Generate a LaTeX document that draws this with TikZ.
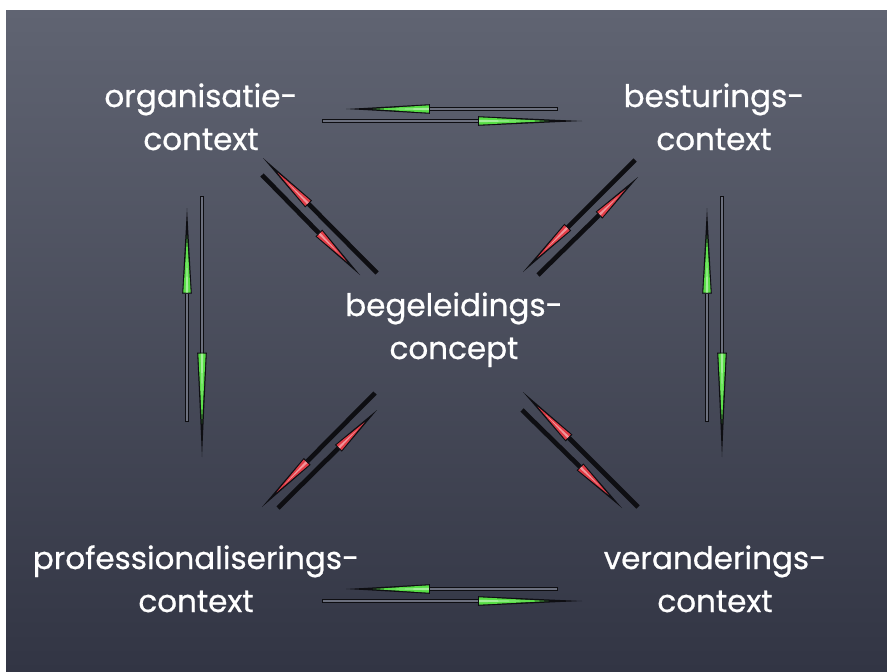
\documentclass[tikz,border=0pt]{standalone}
\usepackage{fontspec}
\setmainfont{Poppins}[FakeBold=0.7]
\usetikzlibrary{calc}

\definecolor{boardtop}{RGB}{96,100,114}
\definecolor{boardbottom}{RGB}{50,53,68}
\definecolor{barfill}{RGB}{108,112,126}
\definecolor{chalkgreen}{RGB}{88,222,70}
\definecolor{chalkred}{RGB}{226,60,70}
\definecolor{inkline}{RGB}{14,14,18}

\tikzset{
  label/.style={text=white, align=center, anchor=base, inner sep=0pt,
    font=\fontsize{31}{43}\selectfont},
  hbar/.style={line width=4.8pt, inkline,
    postaction={draw, line width=2.4pt, barfill, shorten <=1.2pt}},
  dbar/.style={line width=4.6pt, inkline},
}

% tail, tip, fraction where the wedge begins, wedge colour, bar style
\newcommand\chalkarrow[5]{%
  \coordinate (cw-base) at ($(#1)!#3!(#2)$);
  \coordinate (cw-in) at ($(cw-base)!1.1pt!(#2)$);
  \draw[#5] (#1) -- (cw-base);
  \fill[inkline] ($(cw-base)!4.8pt!90:(#2)$) -- (#2) -- ($(cw-base)!4.8pt!-90:(#2)$) -- cycle;
  \fill[#4] ($(cw-in)!3.7pt!90:(#2)$) -- ($(cw-base)!0.68!(#2)$) -- ($(cw-in)!3.7pt!-90:(#2)$) -- cycle;
  \fill[#4!55!white] ($(cw-in)!1.2pt!90:(#2)$) -- ($(cw-base)!0.5!(#2)$) -- ($(cw-in)!1.2pt!-90:(#2)$) -- cycle;
}

\begin{document}
\begin{tikzpicture}[x=1pt,y=-1pt]
  \useasboundingbox (0,0) rectangle (887,672);
  \fill[white] (0,0) rectangle (887,672);
  \shade[top color=boardtop, bottom color=boardbottom] (6,10) rectangle (887,672);

  % labels (anchored on the baseline of their last line)
  \node[label] (org) at (201,150) {organisatie-\\context};
  \node[label] (bes) at (714,150) {besturings-\\context};
  \node[label] (beg) at (454,359) {begeleidings-\\concept};
  \node[label] (pro) at (196,612) {professionaliserings-\\context};
  \node[label] (ver) at (715,612) {veranderings-\\context};

  % arrow end points
  \coordinate (t1tail) at (558,109); \coordinate (t1tip) at (346,109);
  \coordinate (t2tail) at (322,121); \coordinate (t2tip) at (582,121);
  \coordinate (b1tail) at (558,589); \coordinate (b1tip) at (346,589);
  \coordinate (b2tail) at (322,601); \coordinate (b2tip) at (582,601);
  \coordinate (l1tail) at (187,422); \coordinate (l1tip) at (187,208);
  \coordinate (l2tail) at (202,196); \coordinate (l2tip) at (202,457);
  \coordinate (r1tail) at (707,422); \coordinate (r1tip) at (707,208);
  \coordinate (r2tail) at (722,196); \coordinate (r2tip) at (722,457);
  \coordinate (d1tail) at (377,273); \coordinate (d1tip) at (263,158);
  \coordinate (d2tail) at (262,175); \coordinate (d2tip) at (360,275);
  \coordinate (d3tail) at (635,160); \coordinate (d3tip) at (523,272);
  \coordinate (d4tail) at (538,275); \coordinate (d4tip) at (638,177);
  \coordinate (d5tail) at (638,507); \coordinate (d5tip) at (523,392);
  \coordinate (d6tail) at (522,410); \coordinate (d6tip) at (622,508);
  \coordinate (d7tail) at (375,393); \coordinate (d7tip) at (262,507);
  \coordinate (d8tail) at (278,508); \coordinate (d8tip) at (377,410);

  % outer connections (green)
  \chalkarrow{t1tail}{t1tip}{0.604}{chalkgreen}{hbar}
  \chalkarrow{t2tail}{t2tip}{0.6}{chalkgreen}{hbar}
  \chalkarrow{b1tail}{b1tip}{0.604}{chalkgreen}{hbar}
  \chalkarrow{b2tail}{b2tip}{0.6}{chalkgreen}{hbar}
  \chalkarrow{l1tail}{l1tip}{0.6}{chalkgreen}{hbar}
  \chalkarrow{l2tail}{l2tip}{0.6}{chalkgreen}{hbar}
  \chalkarrow{r1tail}{r1tip}{0.6}{chalkgreen}{hbar}
  \chalkarrow{r2tail}{r2tip}{0.6}{chalkgreen}{hbar}

  % connections with the centre (red)
  \chalkarrow{d1tail}{d1tip}{0.6}{chalkred}{dbar}
  \chalkarrow{d2tail}{d2tip}{0.58}{chalkred}{dbar}
  \chalkarrow{d3tail}{d3tip}{0.6}{chalkred}{dbar}
  \chalkarrow{d4tail}{d4tip}{0.61}{chalkred}{dbar}
  \chalkarrow{d5tail}{d5tip}{0.6}{chalkred}{dbar}
  \chalkarrow{d6tail}{d6tip}{0.58}{chalkred}{dbar}
  \chalkarrow{d7tail}{d7tip}{0.6}{chalkred}{dbar}
  \chalkarrow{d8tail}{d8tip}{0.61}{chalkred}{dbar}
\end{tikzpicture}
\end{document}
